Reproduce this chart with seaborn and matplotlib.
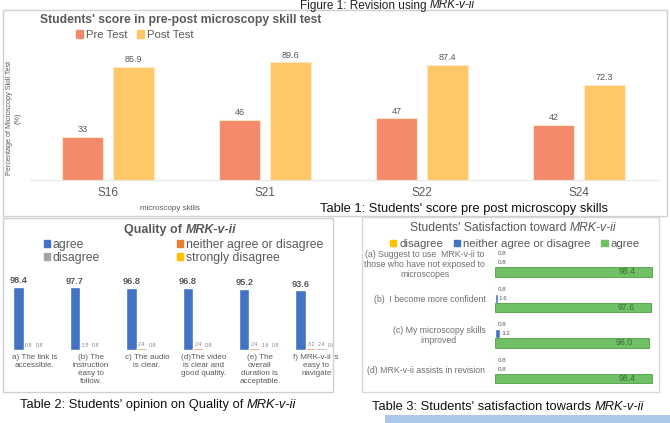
import numpy as np
import pandas as pd
import matplotlib
matplotlib.use('Agg')
import matplotlib.pyplot as plt
import seaborn as sns
from matplotlib.patches import Rectangle, Patch

# --- Table 1 data: pre/post microscopy skill test
skills = ['S16', 'S21', 'S22', 'S24']
pre_test = [33, 46, 47, 42]
post_test = [85.9, 89.6, 87.4, 72.3]

# --- Table 2 data: quality of MRK-v-ii
quality_items = ['a) The link is\naccessible.', '(b) The\ninstruction\neasy to\nfollow.',
                 'c) The audio\nis clear.', '(d)The video\nis clear and\ngood quality.',
                 '(e) The\noverall\nduration is\nacceptable.', 'f) MRK-v-ii is\neasy to\nnavigate']
q_agree = [98.4, 97.7, 96.8, 96.8, 95.2, 93.6]
q_neither = [0.8, 1.5, 2.4, 2.4, 2.4, 3.2]
q_disagree = [0.8, 0.8, 0.8, 0.8, 1.6, 2.4]
q_strongly = [0, 0, 0, 0, 0.8, 0.8]
q_labels = ['agree', 'neither agree or disagree', 'disagree', 'strongly disagree']

# --- Table 3 data: satisfaction toward MRK-v-ii
sat_items = ['(a) Suggest to use  MRK-v-ii to\nthose who have not exposed to\nmicroscopes',
             '(b)  I become more confident',
             '(c) My microscopy skills\nimproved',
             '(d) MRK-v-ii assists in revision']
s_disagree = [0.8, 0.8, 0.8, 0.8]
s_neither = [0.8, 1.6, 3.2, 0.8]
s_agree = [98.4, 97.6, 96.0, 98.4]
s_labels = ['disagree', 'neither agree or disagree', 'agree']

sns.set_style('white')
plt.rcParams['font.family'] = ['Liberation Sans', 'DejaVu Sans']

W, H = 670, 423
fig = plt.figure(figsize=(6.7, 4.23), dpi=100)
renderer = fig.canvas.get_renderer()

def box(x0, y0, x1, y1):
    # pixel coords (top-left origin) -> figure axes rect
    return [x0 / W, 1 - y1 / H, (x1 - x0) / W, (y1 - y0) / H]

def ftext(x, y, s, **kw):
    return fig.text(x / W, 1 - y / H, s, **kw)

def mixed(x, y, plain, ital, **kw):
    # plain text followed by an italic part
    t = ftext(x, y, plain, **kw)
    bb = t.get_window_extent(renderer)
    fig.text(bb.x1 / fig.bbox.width, 1 - y / H, ital, style='italic', **kw)

def frame(x0, y0, x1, y1, color='#d0d0d0'):
    fig.patches.append(Rectangle((x0 / W, 1 - y1 / H), (x1 - x0) / W, (y1 - y0) / H,
                                 transform=fig.transFigure, fill=False,
                                 edgecolor=color, linewidth=1.0))

gray = '#595959'
cap_size = 9.3

# ================= Table 1 =================
frame(3, 10, 667, 216)
df1 = pd.DataFrame({'skill': skills * 2,
                    'test': ['Pre Test'] * 4 + ['Post Test'] * 4,
                    'score': pre_test + post_test})
pal1 = {'Pre Test': '#F4896B', 'Post Test': '#FFC766'}
ax1 = fig.add_axes(box(29.5, 50, 657.5, 180))
sns.barplot(data=df1, x='skill', y='score', hue='test', palette=pal1, width=0.65,
            gap=0.18, ax=ax1, legend=False, saturation=1,
            edgecolor='#FCE9CC', linewidth=0.8)
ax1.set_ylim(0, 99)
ax1.set_xlim(-0.5, 3.5)
ax1.set_yticks([])
ax1.set_xlabel('')
ax1.set_ylabel('')
for s in ['top', 'left', 'right']:
    ax1.spines[s].set_visible(False)
ax1.spines['bottom'].set_color('#e6e6e6')
ax1.tick_params(axis='x', length=0, labelsize=8.5, labelcolor=gray, pad=5)
for c in ax1.containers:
    ax1.bar_label(c, fmt='%g', fontsize=6.5, color=gray, padding=2)

ftext(40, 20, "Students' score in pre-post microscopy skill test", fontsize=8.7,
      fontweight='bold', color=gray, va='center')
h1 = [Patch(color=pal1['Pre Test']), Patch(color=pal1['Post Test'])]
fig.legend(h1, ['Pre Test', 'Post Test'], loc='center left', bbox_to_anchor=(76 / W, 1 - 35 / H),
           ncol=2, frameon=False, fontsize=8.2, handlelength=0.6, handleheight=0.6,
           handletextpad=0.3, columnspacing=0.8, labelcolor=gray, borderpad=0, borderaxespad=0)
ftext(14, 118, 'Percentage of Microscopy Skill Test\n(%)', fontsize=5.2, color=gray,
      rotation=90, ha='center', va='center', multialignment='center')
ftext(170, 208, 'microscopy skills', fontsize=5.8, color=gray, ha='center', va='center')
ftext(320, 209, "Table 1: Students' score pre post microscopy skills", fontsize=cap_size,
      color='#111111', va='center')
mixed(300, -0.5, 'Figure 1: Revision using ', 'MRK-v-ii', fontsize=8.5, color='#222222', va='top')

# ================= Table 2 =================
frame(3, 218, 333, 392)
df2 = pd.DataFrame({'item': quality_items * 4,
                    'resp': [l for l in q_labels for _ in quality_items],
                    'pct': q_agree + q_neither + q_disagree + q_strongly})
pal2 = {'agree': '#4472C4', 'neither agree or disagree': '#ED7D31',
        'disagree': '#A5A5A5', 'strongly disagree': '#FFC000'}
ax2 = fig.add_axes(box(6, 280, 336, 350))
sns.barplot(data=df2, x='item', y='pct', hue='resp', hue_order=q_labels, palette=pal2,
            width=0.74, ax=ax2, legend=False, saturation=1)
ax2.set_ylim(0, 109)
ax2.set_xlim(-0.5, 5.35)
ax2.set_yticks([])
ax2.set_xlabel('')
ax2.set_ylabel('')
sns.despine(ax=ax2, left=True, bottom=True)
ax2.tick_params(axis='x', length=0, labelsize=5.8, labelcolor=gray, pad=3)
for i, c in enumerate(ax2.containers):
    vals = c.datavalues
    labs = ['%g' % v if v > 0 else '' for v in vals]
    if i == 0:
        ax2.bar_label(c, labels=labs, fontsize=6.6, fontweight='bold', color=gray, padding=1)
    else:
        ax2.bar_label(c, labels=labs, fontsize=3.8, color='#7f7f7f', padding=1)

mixed(124, 230, 'Quality of ', 'MRK-v-ii', fontsize=9, fontweight='bold', color=gray, va='center')
leg_a = [('agree', 44, 245), ('disagree', 44, 258),
         ('neither agree or disagree', 177, 245), ('strongly disagree', 177, 258)]
for lab, x, y in leg_a:
    fig.legend([Patch(color=pal2[lab])], [lab], loc='center left',
               bbox_to_anchor=(x / W, 1 - y / H), frameon=False, fontsize=8.8,
               handlelength=0.5, handleheight=0.5, handletextpad=0.2, labelcolor=gray,
               borderpad=0, borderaxespad=0)
mixed(20, 405, "Table 2: Students' opinion on Quality of ", 'MRK-v-ii', fontsize=cap_size,
      color='#111111', va='center')

# ================= Table 3 =================
frame(362, 217, 659, 392, color='#cfdccf')
df3 = pd.DataFrame({'item': sat_items * 3,
                    'resp': [l for l in s_labels for _ in sat_items],
                    'pct': s_disagree + s_neither + s_agree})
pal3 = {'disagree': '#FFC000', 'neither agree or disagree': '#4472C4', 'agree': '#70C066'}
ax3 = fig.add_axes(box(495, 245, 655, 387))
sns.barplot(data=df3, y='item', x='pct', hue='resp', hue_order=s_labels, palette=pal3,
            orient='h', width=0.78, ax=ax3, legend=False, saturation=1)
ax3.set_xlim(0, 100)
ax3.set_xticks([])
ax3.set_xlabel('')
ax3.set_ylabel('')
sns.despine(ax=ax3, left=True, bottom=True)
ax3.tick_params(axis='y', length=0, labelsize=6.3, labelcolor='#707070', pad=7)
for lab in ax3.get_yticklabels():
    lab.set_multialignment('center')
for i, c in enumerate(ax3.containers):
    if i == 2:
        for p in c.patches:
            p.set_edgecolor('#4F9E45')
            p.set_linewidth(0.6)
        ax3.bar_label(c, fmt='%.1f', label_type='edge', padding=-24, fontsize=6.3, color='#3c6e35')
    else:
        ax3.bar_label(c, fmt='%g', fontsize=4.5, color=gray, padding=1)

mixed(410, 228, "Students' Satisfaction toward ", 'MRK-v-ii', fontsize=8.7, color=gray, va='center')
h3 = [Patch(color=pal3[l]) for l in s_labels]
fig.legend(h3, s_labels, loc='center left', bbox_to_anchor=(390 / W, 1 - 244 / H), ncol=3,
           frameon=False, fontsize=8.2, handlelength=0.55, handleheight=0.55, handletextpad=0.3,
           columnspacing=0.9, labelcolor=gray, borderpad=0, borderaxespad=0)
mixed(372, 407, "Table 3: Students' satisfaction towards ", 'MRK-v-ii', fontsize=cap_size,
      color='#111111', va='center')

# bottom page strip
fig.patches.append(Rectangle((385 / W, 0), 285 / W, 8 / H, transform=fig.transFigure,
                             facecolor='#A9C8EA', edgecolor='none'))

fig.savefig('out.png', dpi=100)
